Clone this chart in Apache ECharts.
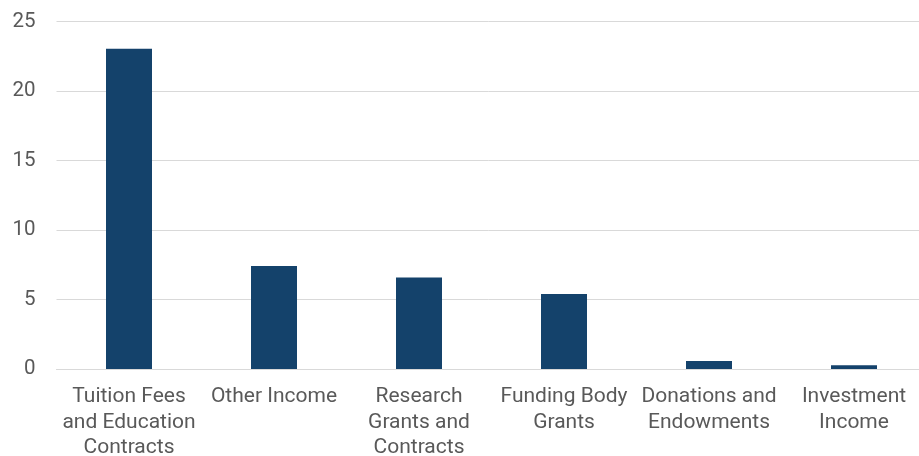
<!DOCTYPE html>
<html>
<head>
<meta charset="utf-8">
<style>
  html, body { margin: 0; padding: 0; background: #fff; }
  #chart { width: 919px; height: 456px; }
</style>
<script src="https://cdn.jsdelivr.net/npm/echarts@6/dist/echarts.min.js"></script>
</head>
<body>
<div id="chart"></div>
<script>
const categories = [
  'Tuition Fees\nand Education\nContracts',
  'Other Income',
  'Research\nGrants and\nContracts',
  'Funding Body\nGrants',
  'Donations and\nEndowments',
  'Investment\nIncome'
]
const incomeValues = [23.05, 7.42, 6.58, 5.4, 0.58, 0.27]
const yTicks = [0, 5, 10, 15, 20, 25]

const chart = echarts.init(document.getElementById('chart'))

chart.setOption({
  animation: false,
  grid: {
    left: 56.5, top: 21.7, width: 870, height: 347.3,
    containLabel: false, outerBoundsMode: 'none'
  },
  xAxis: {
    type: 'category',
    data: categories,
    axisTick: { show: false },
    axisLine: { lineStyle: { color: '#d9d9d9', width: 1 } },
    axisLabel: {
      color: '#595959', fontSize: 21, fontFamily: 'Roboto',
      lineHeight: 25.5, margin: 15, interval: 0
    }
  },
  yAxis: {
    type: 'value',
    min: yTicks[0],
    max: yTicks[yTicks.length - 1],
    interval: 5,
    axisLine: { show: false },
    axisTick: { show: false },
    axisLabel: { color: '#595959', fontSize: 20.5, fontFamily: 'Roboto', margin: 21 },
    splitLine: { lineStyle: { color: '#d9d9d9', width: 1 } }
  },
  series: [{
    type: 'bar',
    data: incomeValues,
    barWidth: 46,
    itemStyle: { color: '#14426b' }
  }]
})
</script>
</body>
</html>
